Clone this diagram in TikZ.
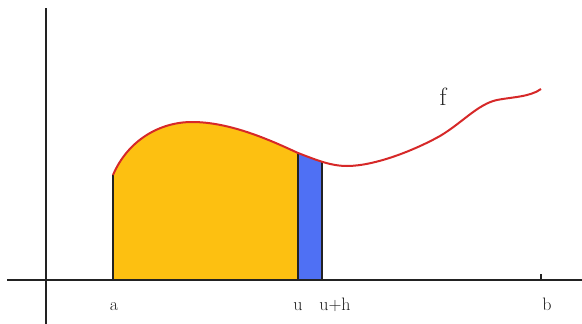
\documentclass[tikz,border=0pt]{standalone}
\usepackage{tikz}
\definecolor{areayellow}{HTML}{FDC011}
\definecolor{areablue}{HTML}{4F70F4}
\definecolor{curvered}{HTML}{D62828}
\definecolor{inkdark}{HTML}{222222}
\tikzset{
  axisline/.style={inkdark, line width=2pt},
  edgeline/.style={inkdark, line width=1.5pt},
  curveline/.style={curvered, line width=2pt},
  lbl/.style={anchor=base, inner sep=0pt, font=\fontsize{18}{20}\selectfont, text=inkdark},
  flbl/.style={anchor=base, inner sep=0pt, font=\fontsize{25}{27}\selectfont, text=inkdark}
}
\begin{document}
\begin{tikzpicture}[x=1pt, y=-1pt]
  \useasboundingbox (0,0) rectangle (582,324);
  % fills
  \begin{scope}
    \clip (113,0) rectangle (298,280);
    \fill[areayellow] (113,280) -- (113,175) .. controls (128,140) and (160,122) .. (192,122) .. controls (230,122) and (270,140) .. (298,153) .. controls (315,159.4) and (330,166) .. (347,166) -- (347,280) -- cycle;
  \end{scope}
  \begin{scope}
    \clip (298,0) rectangle (322,280);
    \fill[areablue] (113,280) -- (113,175) .. controls (128,140) and (160,122) .. (192,122) .. controls (230,122) and (270,140) .. (298,153) .. controls (315,159.4) and (330,166) .. (347,166) -- (347,280) -- cycle;
  \end{scope}
  % coordinates
  \coordinate (xs) at (7,280);
  \coordinate (xe) at (582,280);
  \coordinate (ys) at (46,8);
  \coordinate (ye) at (46,324);
  \coordinate (a0) at (113,280);
  \coordinate (a1) at (113,175);
  \coordinate (u0) at (298,280);
  \coordinate (u1) at (298,153);
  \coordinate (h0) at (322,280);
  \coordinate (h1) at (322,162);
  \coordinate (b0) at (541,280);
  \coordinate (b1) at (541,274);
  % edges
  \draw[edgeline] (a0) -- (a1);
  \draw[edgeline] (u0) -- (u1);
  \draw[edgeline] (h0) -- (h1);
  % curve
  \draw[curveline] (113,175) .. controls (128,140) and (160,122) .. (192,122) .. controls (230,122) and (270,140) .. (298,153) .. controls (315,159.4) and (330,166) .. (347,166) .. controls (375,166) and (415,150) .. (440,136) .. controls (462,123) and (478,104) .. (497,100) .. controls (512,97) and (530,97) .. (541,89);
  % axes
  \draw[axisline] (xs) -- (xe);
  \draw[axisline] (ys) -- (ye);
  \draw[axisline, line width=1.5pt] (b0) -- (b1);
  % labels
  \node[lbl] (la) at (114,310) {a};
  \node[lbl] (lu) at (298,310) {u};
  \node[lbl] (luh) at (335,310) {u+h};
  \node[lbl] (lb) at (547,310) {b};
  \node[flbl] (lf) at (443,105) {f};
\end{tikzpicture}
\end{document}
